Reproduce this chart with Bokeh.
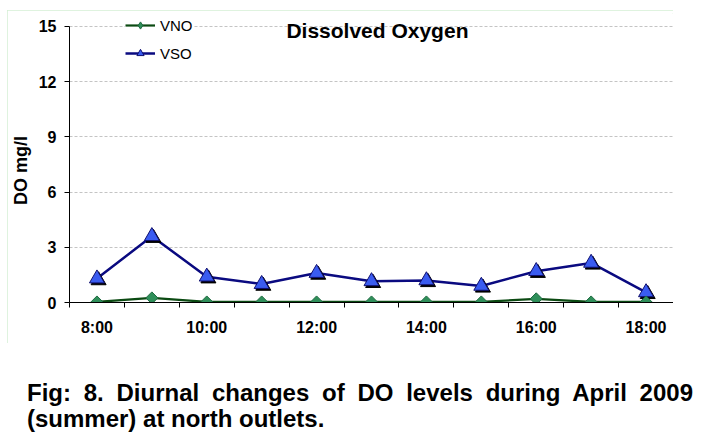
from bokeh.plotting import figure
from bokeh.models import (FixedTicker, Label, Legend, LegendItem,
                          Div, ColumnDataSource, Spacer)
from bokeh.layouts import column, row
from bokeh.transform import dodge
from bokeh.embed import file_html
from bokeh.resources import INLINE

# ---- data ----
hours = ["8:00", "9:00", "10:00", "11:00", "12:00", "13:00",
         "14:00", "15:00", "16:00", "17:00", "18:00"]
vno = [0.03, 0.25, 0.03, 0.03, 0.03, 0.03, 0.03, 0.03, 0.2, 0.03, 0.03]
vso = [1.3, 3.6, 1.4, 1.0, 1.6, 1.15, 1.2, 0.9, 1.7, 2.15, 0.55]
y_ticks = [0, 3, 6, 9, 12, 15]
chart_title = "Dissolved Oxygen"
y_label = "DO mg/l"
caption = ("Fig: 8. Diurnal changes of DO levels during April 2009 "
           "(summer) at north outlets.")

FONT = "Liberation Sans"

xs = list(range(len(hours)))
src = ColumnDataSource(dict(x=xs, vno=vno, vso=vso))

p = figure(width=666, height=333,
           x_range=(-0.5, len(hours) - 0.5), y_range=(y_ticks[0], 15.7),
           output_backend="svg", toolbar_location=None,
           min_border_left=60, min_border_right=0,
           min_border_top=3, min_border_bottom=41,
           styles={"outline": "1px solid #d4efd4", "outline-offset": "-1px"})
p.outline_line_color = None
p.background_fill_color = "white"
p.border_fill_color = "white"

# grid
p.xgrid.visible = False
p.ygrid.ticker = FixedTicker(ticks=y_ticks)
p.ygrid.grid_line_color = "#c4c4c4"
p.ygrid.grid_line_dash = "3 2"
p.ygrid.grid_line_width = 1

# y axis
p.yaxis.ticker = FixedTicker(ticks=y_ticks)
p.yaxis.bounds = (y_ticks[0], y_ticks[-1])
p.yaxis.axis_label = y_label + "\u00a0" * 5
p.yaxis.axis_label_text_font = FONT
p.yaxis.axis_label_text_font_style = "bold"
p.yaxis.axis_label_text_font_size = "18px"
p.yaxis.axis_label_text_color = "black"
p.yaxis.axis_label_standoff = 5
p.yaxis.major_label_text_font = FONT
p.yaxis.major_label_text_font_style = "bold"
p.yaxis.major_label_text_font_size = "16px"
p.yaxis.major_label_text_color = "black"
p.yaxis.major_label_standoff = 8
p.yaxis.major_tick_out = 5
p.yaxis.major_tick_in = 0
p.yaxis.minor_tick_line_color = None
p.yaxis.axis_line_color = "black"
p.yaxis.major_tick_line_color = "black"

# x axis
major = xs[::2]
minor = [i - 0.5 for i in range(len(hours) + 1)]
p.xaxis.ticker = FixedTicker(ticks=major, minor_ticks=minor)
p.xaxis.major_label_overrides = {i: hours[i] for i in major}
p.xaxis.major_label_text_font = FONT
p.xaxis.major_label_text_font_style = "bold"
p.xaxis.major_label_text_font_size = "16px"
p.xaxis.major_label_text_color = "black"
p.xaxis.major_label_standoff = 11
p.xaxis.major_tick_out = 5
p.xaxis.major_tick_in = 0
p.xaxis.major_tick_line_color = None
p.xaxis.minor_tick_out = 5
p.xaxis.minor_tick_in = 0
p.xaxis.minor_tick_line_color = "black"
p.xaxis.axis_line_color = "black"

# series
l_vno = p.line("x", "vno", source=src, line_color="#0b4a12", line_width=2.2)
l_vso = p.line("x", "vso", source=src, line_color="#0a0a80", line_width=2.5)

p.scatter(dodge("x", 0.03), dodge("vso", -0.1), source=src, marker="triangle",
          size=15, fill_color="black", line_color="black")
s_vso = p.scatter("x", "vso", source=src, marker="triangle", size=15,
                  fill_color="#3a5cf0", line_color="#101070", line_width=1)
s_vno = p.scatter("x", "vno", source=src, marker="square", angle=0.785398,
                  size=8.5, fill_color="#2f8f5a", line_color="#1f6a40",
                  line_width=1)
# legend-only diamond glyph (a single non-plotted NaN point)
nan = float("nan")
s_vno_leg = p.scatter(x=[nan], y=[nan], marker="diamond", size=14,
                      fill_color="#2f8f5a", line_color="#1f6a40", line_width=1)

# legend
legend = Legend(items=[LegendItem(label="VNO", renderers=[l_vno, s_vno_leg]),
                       LegendItem(label="VSO", renderers=[l_vso, s_vso])],
                location=(56, 240))
legend.glyph_width = 30
legend.glyph_height = 18
legend.label_height = 18
legend.label_standoff = 5
legend.spacing = 10
legend.padding = 2
legend.margin = 0
legend.border_line_color = None
legend.background_fill_color = "white"
legend.background_fill_alpha = 1
legend.label_text_font = FONT
legend.label_text_font_size = "15px"
legend.label_text_color = "black"
p.add_layout(legend)

# title inside plot
p.add_layout(Label(x=3.45, y=14.78, text=chart_title, text_font=FONT,
                   text_font_style="bold", text_font_size="21px",
                   text_color="black", text_baseline="alphabetic"))

div = Div(text=('<div style="font-family:\'Liberation Sans\',Arial,sans-serif;'
                'font-weight:bold;font-size:24px;line-height:26px;'
                'text-align:justify;padding-left:22px;width:688px;'
                'box-sizing:border-box;'
                'padding-top:32px;color:black;">' + caption + '</div>'),
          width=700, height=86)

layout = column(Spacer(height=10),
                row(Spacer(width=7), p, spacing=0),
                div, spacing=0)
open("out.html", "w").write(file_html(layout, INLINE))
